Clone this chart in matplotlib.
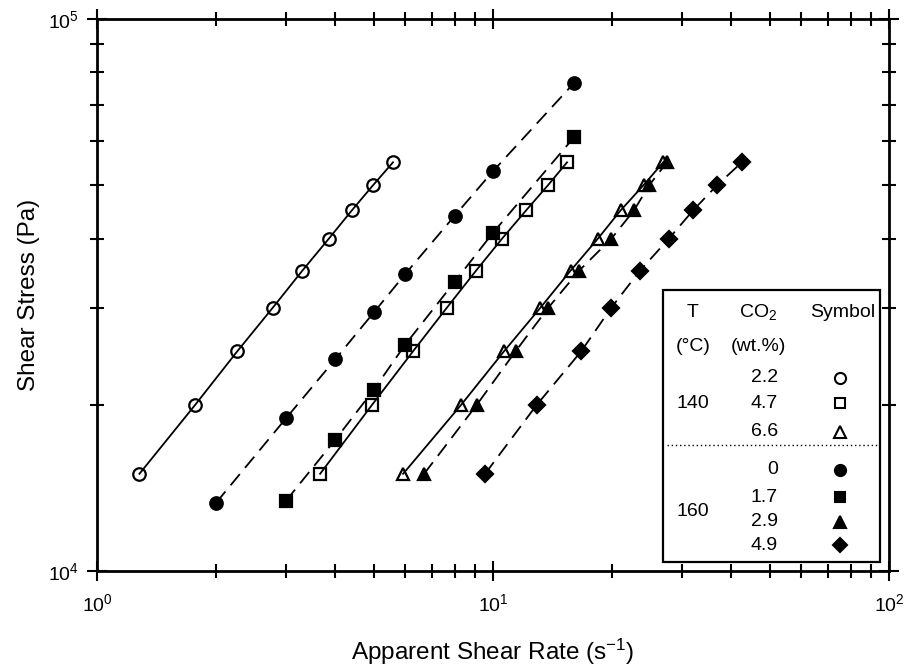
import matplotlib

matplotlib.use("Agg")
import matplotlib.pyplot as plt
from matplotlib.patches import Rectangle

plt.rcParams["font.family"] = ["Liberation Sans", "DejaVu Sans"]
plt.rcParams["mathtext.default"] = "regular"

# shear stress levels shared by the 9-point runs (Pa)
stress = [15000, 20000, 25000, 30000, 35000, 40000, 45000, 50000, 55000]

# 140 C runs
rate_140_22 = [1.28, 1.77, 2.26, 2.78, 3.30, 3.85, 4.40, 4.98, 5.59]
rate_140_47 = [3.66, 4.95, 6.28, 7.65, 9.06, 10.54, 12.12, 13.77, 15.38]
rate_140_66 = [5.93, 8.31, 10.66, 13.18, 15.7, 18.4, 21.0, 24.0, 26.9]

# 160 C runs
rate_160_0 = [2.0, 3.0, 4.0, 5.0, 6.0, 8.0, 10.0, 16.0]
stress_160_0 = [13300, 18900, 24200, 29400, 34500, 44000, 53000, 76500]
rate_160_17 = [3.0, 4.0, 5.0, 6.0, 8.0, 10.0, 16.0]
stress_160_17 = [13400, 17300, 21300, 25700, 33400, 41000, 61000]
rate_160_29 = [6.7, 9.1, 11.4, 13.8, 16.5, 19.9, 22.7, 24.8, 27.5]
rate_160_49 = [9.55, 12.9, 16.7, 19.9, 23.5, 27.8, 32.0, 36.8, 42.5]

legend_co2_140 = ["2.2", "4.7", "6.6"]
legend_co2_160 = ["0", "1.7", "2.9", "4.9"]

dash = (0, (8, 4.5))
series = [
    (rate_140_22, stress, "o", "none", "-"),
    (rate_140_47, stress, "s", "none", "-"),
    (rate_140_66, stress, "^", "none", "-"),
    (rate_160_0, stress_160_0, "o", "black", dash),
    (rate_160_17, stress_160_17, "s", "black", dash),
    (rate_160_29, stress, "^", "black", dash),
    (rate_160_49, stress, "D", "black", dash),
]
msizes = {"o": 9, "s": 8.5, "^": 9, "D": 8}

fig = plt.figure(figsize=(9.11, 6.72), dpi=100)
ax = fig.add_axes([97 / 911, 1 - 571 / 672, 792 / 911, 552 / 672])

for x, y, m, fc, ls in series:
    ax.plot(x, y, color="black", linestyle=ls, linewidth=1.3, marker=m,
            markersize=msizes[m], markerfacecolor=fc, markeredgecolor="black",
            markeredgewidth=1.6)

ax.set_xscale("log")
ax.set_yscale("log")
ax.set_xlim(1, 100)
ax.set_ylim(1e4, 1e5)

for s in ax.spines.values():
    s.set_linewidth(2)
ax.tick_params(which="both", direction="inout", top=True, right=True,
               width=1.5, labelsize=14)
ax.tick_params(which="major", length=14, pad=6)
ax.tick_params(which="minor", length=10, labelleft=False, labelbottom=False)
ax.tick_params(axis="x", which="major", pad=9)

ax.set_xlabel("Apparent Shear Rate (s$^{-1}$)", fontsize=17.5)
ax.set_ylabel("Shear Stress (Pa)", fontsize=17.5)
ax.xaxis.set_label_coords(0.5, -0.12)
ax.yaxis.set_label_coords(-0.072, 0.5)

# composition / symbol table in the lower right corner
tr = ax.transAxes
box = Rectangle((0.7146, 0.0163), 0.274, 0.4927, transform=tr,
                facecolor="white", edgecolor="black", linewidth=1.6, zorder=5)
ax.add_patch(box)
ax.plot([0.72, 0.985], [0.228, 0.228], transform=tr, color="black",
        linestyle=(0, (1, 2)), linewidth=1, zorder=6)

kw = dict(transform=tr, fontsize=14, zorder=7, va="center")
ax.text(0.7525, 0.469, "T", ha="center", **kw)
ax.text(0.7525, 0.406, "(°C)", ha="center", **kw)
ax.text(0.8346, 0.469, "CO$_2$", ha="center", **kw)
ax.text(0.8346, 0.406, "(wt.%)", ha="center", **kw)
ax.text(0.942, 0.469, "Symbol", ha="center", **kw)
ax.text(0.7525, 0.304, "140", ha="center", **kw)
ax.text(0.7525, 0.107, "160", ha="center", **kw)

rows_140 = [0.350, 0.304, 0.252]
rows_160 = [0.183, 0.134, 0.089, 0.047]
for lab, yy, (_, _, m, fc, _) in zip(legend_co2_140 + legend_co2_160,
                                     rows_140 + rows_160, series):
    ax.text(0.860, yy, lab, ha="right", **kw)
    ax.plot([0.938], [yy], transform=tr, marker=m, markersize=msizes[m] - 1,
            markerfacecolor=fc, markeredgecolor="black", markeredgewidth=1.5,
            linestyle="none", zorder=7, clip_on=False)

fig.savefig("out.png", dpi=100)
plt.close(fig)
